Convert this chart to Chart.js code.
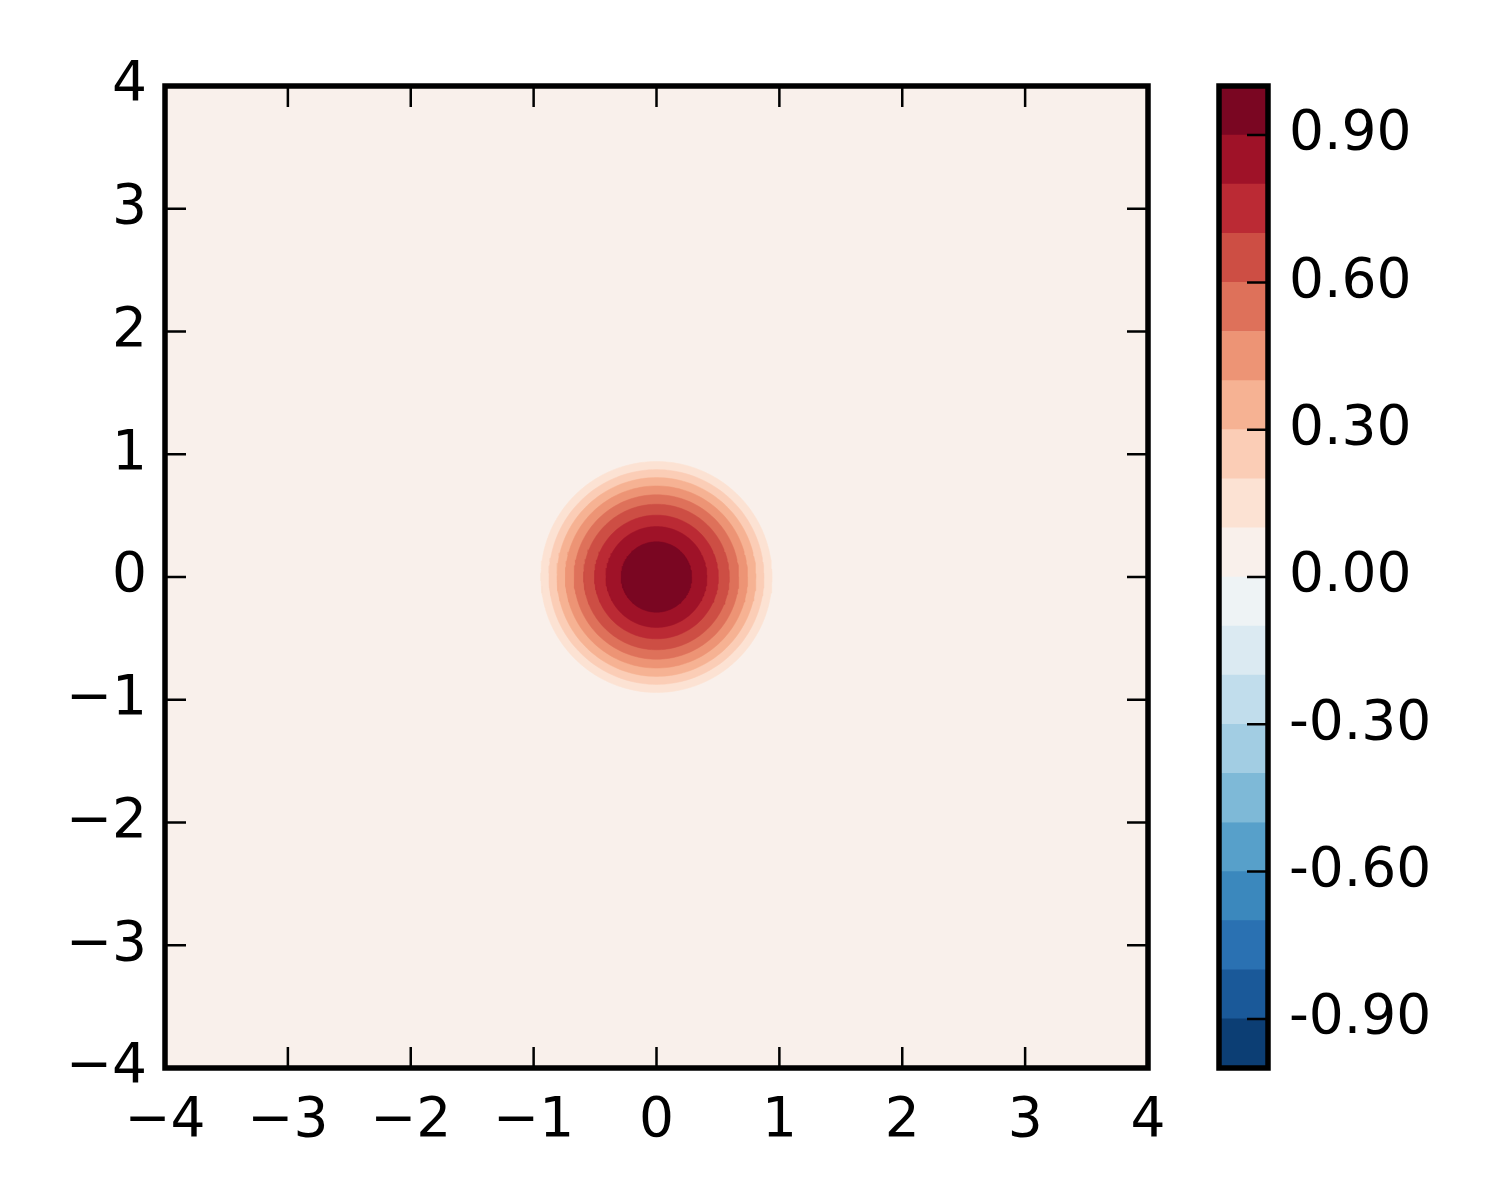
<!DOCTYPE html>
<html>
<head>
<meta charset="utf-8">
<script src="https://cdn.jsdelivr.net/npm/chart.js@4.4.0/dist/chart.umd.min.js"></script>
<style>
  body { margin: 0; background: #fff; width: 1500px; height: 1200px; position: relative; overflow: hidden; }
  #main { position: absolute; left: 0; top: 0; }
  #cbar { position: absolute; left: 1200px; top: 0; }
</style>
</head>
<body>
<canvas id="main" width="1200" height="1200"></canvas>
<canvas id="cbar" width="300" height="1200"></canvas>
<script>
// contour levels of the bump and the radius (data units) where each level is crossed
const contourLevels = [0.1, 0.2, 0.3, 0.4, 0.5, 0.6, 0.7, 0.8, 0.9]
const contourRadii = [0.941, 0.875, 0.810, 0.742, 0.670, 0.593, 0.504, 0.411, 0.287]

// colorbar boundaries (-1 .. 1) and labelled ticks
const colorbarLevels = [-1.0, -0.9, -0.8, -0.7, -0.6, -0.5, -0.4, -0.3, -0.2, -0.1, 0.0,
  0.1, 0.2, 0.3, 0.4, 0.5, 0.6, 0.7, 0.8, 0.9, 1.0]
const colorbarTicks = [-0.9, -0.6, -0.3, 0.0, 0.3, 0.6, 0.9]
const axisTicks = [-4, -3, -2, -1, 0, 1, 2, 3, 4]

// RdBu_r colours, one per band from bottom (-1..-0.9) to top (0.9..1)
const layerColors = ['#0c3e74', '#1a5999', '#2a71b2', '#3b88bd', '#57a0ca', '#7eb9d7',
  '#a2cde3', '#c1ddec', '#dbeaf2', '#eef3f5', '#f9f0eb', '#fce2d3', '#fbcdb6',
  '#f6b293', '#ed9475', '#de715a', '#cd4e44', '#bb2a34', '#9f1228', '#7a0622']

const font = { family: 'DejaVu Sans', size: 55 }
const tickLen = 21

function bandColor(lo) {
  return layerColors[Math.round((lo + 1) * 10)]
}

function circlePoints(r) {
  const pts = []
  for (let k = 0; k <= 180; k++) {
    const a = k / 180 * Math.PI * 2
    pts.push({ x: r * Math.cos(a), y: r * Math.sin(a) })
  }
  return pts
}

const fmtMinus = v => (v < 0 ? '\u2212' + Math.abs(v) : String(v))

const rings = contourLevels.map((lvl, i) => ({
  label: lvl.toFixed(1),
  data: circlePoints(contourRadii[i]),
  showLine: true,
  fill: 'shape',
  backgroundColor: bandColor(lvl),
  borderColor: bandColor(lvl),
  borderWidth: 0.5,
  pointRadius: 0,
  order: contourLevels.length - i
}))

const mainFrame = {
  id: 'mainFrame',
  beforeDatasetsDraw(chart) {
    const { ctx, chartArea: a } = chart
    ctx.save()
    ctx.fillStyle = bandColor(0.0)
    ctx.fillRect(a.left, a.top, a.right - a.left, a.bottom - a.top)
    ctx.restore()
  },
  afterDraw(chart) {
    const { ctx, chartArea: a, scales } = chart
    ctx.save()
    ctx.strokeStyle = '#000'
    ctx.lineWidth = 2.5
    ctx.beginPath()
    axisTicks.forEach(v => {
      const px = scales.x.getPixelForValue(v)
      ctx.moveTo(px, a.bottom); ctx.lineTo(px, a.bottom - tickLen)
      ctx.moveTo(px, a.top); ctx.lineTo(px, a.top + tickLen)
      const py = scales.y.getPixelForValue(v)
      ctx.moveTo(a.left, py); ctx.lineTo(a.left + tickLen, py)
      ctx.moveTo(a.right, py); ctx.lineTo(a.right - tickLen, py)
    })
    ctx.stroke()
    ctx.lineWidth = 5.5
    ctx.strokeRect(a.left, a.top, a.right - a.left, a.bottom - a.top)
    ctx.restore()
  }
}

new Chart(document.getElementById('main'), {
  type: 'scatter',
  data: { datasets: rings },
  options: {
    responsive: false,
    animation: false,
    devicePixelRatio: 1,
    layout: { padding: { top: 86, right: 52, left: 0, bottom: 0 } },
    plugins: { legend: { display: false }, tooltip: { enabled: false } },
    scales: {
      x: {
        type: 'linear', min: -4, max: 4,
        afterBuildTicks: s => { s.ticks = axisTicks.map(v => ({ value: v })) },
        afterFit: s => { s.height = 132 },
        grid: { display: false, drawTicks: false },
        border: { display: false },
        ticks: { padding: 21, color: '#000', font: font, maxRotation: 0, autoSkip: false, callback: fmtMinus }
      },
      y: {
        type: 'linear', min: -4, max: 4,
        afterBuildTicks: s => { s.ticks = axisTicks.map(v => ({ value: v })) },
        afterFit: s => { s.width = 165 },
        grid: { display: false, drawTicks: false },
        border: { display: false },
        ticks: { padding: 18, color: '#000', font: font, autoSkip: false, callback: fmtMinus }
      }
    }
  },
  plugins: [mainFrame]
})

const cbarFrame = {
  id: 'cbarFrame',
  afterDraw(chart) {
    const { ctx, chartArea: a, scales } = chart
    ctx.save()
    ctx.strokeStyle = '#000'
    ctx.lineWidth = 2.5
    ctx.beginPath()
    colorbarTicks.forEach(v => {
      const py = scales.y.getPixelForValue(v)
      ctx.moveTo(a.right, py); ctx.lineTo(a.right - tickLen, py)
    })
    ctx.stroke()
    ctx.lineWidth = 5.5
    ctx.strokeRect(a.left, a.top, a.right - a.left, a.bottom - a.top)
    ctx.restore()
  }
}

new Chart(document.getElementById('cbar'), {
  type: 'bar',
  data: {
    labels: [''],
    datasets: layerColors.map((c, i) => ({
      data: [[colorbarLevels[i], colorbarLevels[i + 1]]],
      backgroundColor: c,
      borderWidth: 0,
      grouped: false,
      barPercentage: 1,
      categoryPercentage: 1
    }))
  },
  options: {
    responsive: false,
    animation: false,
    devicePixelRatio: 1,
    layout: { padding: { top: 86, bottom: 132, left: 19, right: 0 } },
    plugins: { legend: { display: false }, tooltip: { enabled: false } },
    scales: {
      x: { display: false },
      y: {
        position: 'right', min: -1, max: 1,
        afterBuildTicks: s => { s.ticks = colorbarTicks.map(v => ({ value: v })) },
        afterFit: s => { s.width = 232 },
        grid: { display: false, drawTicks: false },
        border: { display: false },
        ticks: { padding: 21, color: '#000', font: font, autoSkip: false, callback: v => v.toFixed(2) }
      }
    }
  },
  plugins: [cbarFrame]
})
</script>
</body>
</html>
